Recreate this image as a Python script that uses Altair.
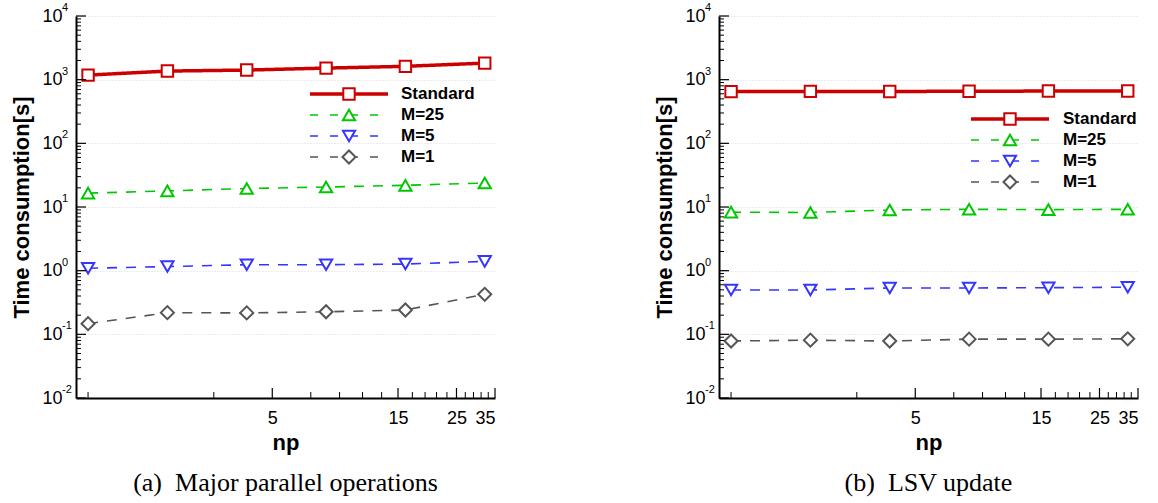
import altair as alt
import pandas as pd

# ---------------- data ----------------
np_values = [1, 2, 4, 8, 16, 32]
series_names = ["Standard", "M=25", "M=5", "M=1"]

# (a) Major parallel operations
a_standard = [1180, 1365, 1415, 1520, 1620, 1820]
a_m25 = [16.5, 17.9, 19.5, 20.6, 21.9, 23.8]
a_m5 = [1.09, 1.16, 1.24, 1.24, 1.27, 1.40]
a_m1 = [0.147, 0.219, 0.217, 0.226, 0.241, 0.425]

# (b) LSV update
b_standard = [650, 655, 652, 658, 662, 665]
b_m25 = [8.3, 8.2, 8.97, 9.2, 9.1, 9.2]
b_m5 = [0.497, 0.497, 0.535, 0.535, 0.54, 0.55]
b_m1 = [0.0785, 0.081, 0.0785, 0.084, 0.084, 0.085]

captions = ["(a)\u00a0 Major parallel operations", "(b)\u00a0 LSV update"]

y_major = [0.01, 0.1, 1, 10, 100, 1000, 10000]
y_exponents = ["-2", "-1", "0", "1", "2", "3", "4"]
minor_mult = [2, 3, 4, 5, 6, 7, 8, 9]
y_minor = [m * d for d in [0.01, 0.1, 1, 10, 100, 1000] for m in minor_mult]
x_major = [5, 15, 25, 35]
x_minor = [1, 3, 7, 9, 11, 13, 17, 19, 21, 23, 27, 29, 31, 33]

# ---------------- styles ----------------
colors = {"Standard": "#cc0000", "M=25": "#00c800", "M=5": "#3535ff", "M=1": "#555555"}
shapes = {"Standard": "square", "M=25": "triangle-up", "M=5": "triangle-down", "M=1": "diamond"}
msize = {"Standard": 130, "M=25": 150, "M=5": 150, "M=1": 170}
lwidth = {"Standard": 3.5, "M=25": 1.6, "M=5": 1.6, "M=1": 1.6}
ldash = {"Standard": [1, 0], "M=25": [10, 9], "M=5": [10, 9], "M=1": [10, 9]}

W, H = 419, 382
FONT = "Liberation Sans"

xscale = alt.Scale(type="log", domain=[0.9, 35], nice=False)
yscale = alt.Scale(type="log", domain=[0.01, 10000], nice=False)


def panel(vals, caption, leg_y, leg_x0, leg_x1, leg_xm, leg_xt):
    rows = []
    for name, arr in zip(series_names, vals):
        for n, t in zip(np_values, arr):
            rows.append({"np": n, "t": t, "series": name})
    df = pd.DataFrame(rows)

    x_enc = alt.X(
        "np:Q", scale=xscale,
        axis=alt.Axis(values=x_major, title="np", ticks=False, grid=False,
                      domainWidth=2, domainColor="black", labelFontSize=18,
                      labelFont=FONT, labelColor="black", labelPadding=11,
                      titleFont=FONT, titleFontSize=22, titleFontWeight="bold",
                      titleColor="black", titlePadding=5, format="d"))
    y_enc = alt.Y(
        "t:Q", scale=yscale,
        axis=alt.Axis(values=y_major, labelExpr="'10'", title="Time consumption[s]",
                      ticks=False, grid=True, gridColor="#d8d8d8", gridDash=[1, 2],
                      domainWidth=2, domainColor="black", labelFontSize=18,
                      labelFont=FONT, labelColor="black", labelPadding=14,
                      titleFont=FONT, titleFontSize=22, titleFontWeight="bold",
                      titleColor="black", titlePadding=8))

    layers = []
    for name in series_names:
        sub = alt.Chart(df).transform_filter(alt.datum.series == name)
        layers.append(sub.mark_line(color=colors[name], strokeWidth=lwidth[name],
                                    strokeDash=ldash[name]).encode(x=x_enc, y=y_enc))
    for name in series_names:
        sub = alt.Chart(df).transform_filter(alt.datum.series == name)
        layers.append(sub.mark_point(shape=shapes[name], filled=True, fill="white",
                                     stroke=colors[name], strokeWidth=2, size=msize[name],
                                     opacity=1).encode(x=alt.X("np:Q", scale=xscale),
                                                       y=alt.Y("t:Q", scale=yscale)))
    # exponents of the y tick labels
    layers.append(alt.Chart(pd.DataFrame({"t": y_major, "e": y_exponents}))
                  .mark_text(align="left", baseline="middle", font=FONT, fontSize=11,
                             color="black", dy=-8)
                  .encode(y=alt.Y("t:Q", scale=yscale), x=alt.value(-14), text="e:N"))
    # inside ticks
    layers.append(alt.Chart(pd.DataFrame({"t": y_major})).mark_rule(color="black", strokeWidth=1.2)
                  .encode(y=alt.Y("t:Q", scale=yscale), x=alt.value(0), x2=alt.value(10)))
    layers.append(alt.Chart(pd.DataFrame({"t": y_minor})).mark_rule(color="black", strokeWidth=1)
                  .encode(y=alt.Y("t:Q", scale=yscale), x=alt.value(0), x2=alt.value(5)))
    layers.append(alt.Chart(pd.DataFrame({"np": x_major})).mark_rule(color="black", strokeWidth=1.2)
                  .encode(x=alt.X("np:Q", scale=xscale), y=alt.value(H), y2=alt.value(H - 10)))
    layers.append(alt.Chart(pd.DataFrame({"np": x_minor})).mark_rule(color="black", strokeWidth=1)
                  .encode(x=alt.X("np:Q", scale=xscale), y=alt.value(H), y2=alt.value(H - 6)))

    # legend
    one = pd.DataFrame({"a": [0]})
    for i, name in enumerate(series_names):
        yy = leg_y + 21 * i
        layers.append(alt.Chart(one).mark_rule(color=colors[name], strokeWidth=lwidth[name],
                                               strokeDash=[8, 12] if name != "Standard" else [1, 0])
                      .encode(x=alt.value(leg_x0), x2=alt.value(leg_x1), y=alt.value(yy)))
        layers.append(alt.Chart(one).mark_point(shape=shapes[name], filled=True, fill="white",
                                                stroke=colors[name], strokeWidth=2,
                                                size=msize[name], opacity=1)
                      .encode(x=alt.value(leg_xm), y=alt.value(yy)))
        layers.append(alt.Chart(one).mark_text(align="left", baseline="middle", font=FONT,
                                               fontSize=17, fontWeight="bold", color="black")
                      .encode(x=alt.value(leg_xt), y=alt.value(yy), text=alt.value(name)))

    return alt.layer(*layers).properties(
        width=W, height=H,
        title=alt.TitleParams(caption, orient="bottom", anchor="middle", frame="group",
                              font="Liberation Serif", fontSize=26, fontWeight="normal",
                              color="black", offset=17))


left = panel([a_standard, a_m25, a_m5, a_m1], captions[0], 78, 234, 312, 273, 325)
right = panel([b_standard, b_m25, b_m5, b_m1], captions[1], 103, 252, 330, 291, 344)

chart = alt.hconcat(left, right, spacing=157).configure_view(stroke=None).properties(
    padding={"top": 2, "left": 10, "right": 5, "bottom": 2}, background="white")

chart.save("out.html", embed_options={"renderer": "svg", "actions": False})
